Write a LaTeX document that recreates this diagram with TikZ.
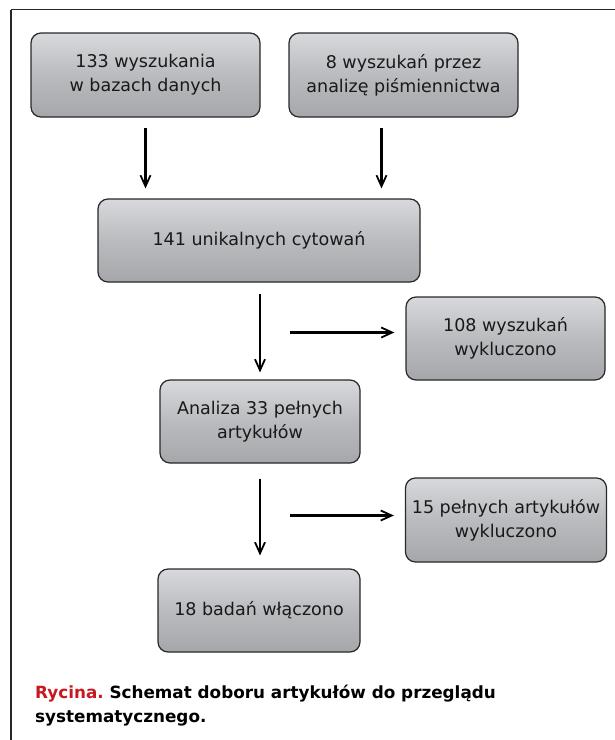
\documentclass[tikz,border=0pt]{standalone}
\usepackage{fontspec}
\setmainfont{DejaVu Sans}
\usetikzlibrary{arrows.meta}
\definecolor{boxtop}{RGB}{216,217,220}
\definecolor{boxbot}{RGB}{166,167,170}
\definecolor{boxline}{RGB}{40,40,40}
\definecolor{txt}{RGB}{25,25,25}
\definecolor{capred}{RGB}{200,25,35}
\tikzset{
  flowbox/.style={draw=boxline, line width=1.2pt, rounded corners=10pt,
    top color=boxtop, bottom color=boxbot, middle color=boxbot!60!boxtop,
    shading angle=0, align=center, text=txt, inner sep=0pt,
    font=\fontsize{17.5}{24}\selectfont},
  flowarrow/.style={line width=2.2pt, -{Straight Barb[length=11pt,width=10pt,line width=1.8pt]}}
}
\begin{document}
\frenchspacing
\begin{tikzpicture}[x=1pt,y=-1pt]
\useasboundingbox (0,0) rectangle (615,740);
\fill[white] (0,0) rectangle (615,740);
\draw[line width=1.3pt, black!85] (11,9.5) -- (640,9.5);
\draw[line width=1.3pt, black!85] (11,9.5) -- (11,760);

\node[flowbox, minimum width=229pt, minimum height=84pt] (b1) at (145.5,75) {133 wyszukania\\w bazach danych};
\node[flowbox, minimum width=229pt, minimum height=84pt] (b2) at (403.5,75) {8 wyszukań przez\\analizę piśmiennictwa};
\node[flowbox, minimum width=322pt, minimum height=83pt] (b3) at (259,240.5) {141 unikalnych cytowań};
\node[flowbox, minimum width=199pt, minimum height=83pt] (b4) at (505.5,338.5) {108 wyszukań\\wykluczono};
\node[flowbox, minimum width=200pt, minimum height=83pt] (b5) at (260,421.5) {Analiza 33 pełnych\\artykułów};
\node[flowbox, minimum width=201pt, minimum height=84pt] (b6) at (506,520) {15 pełnych artykułów\\wykluczono};
\node[flowbox, minimum width=202pt, minimum height=83pt] (b7) at (259,610.5) {18 badań włączono};

\draw[flowarrow, shorten <=10pt, shorten >=10pt] (b1.south) -- (b1.south |- b3.north);
\draw[flowarrow, shorten <=10pt, shorten >=10pt] ([xshift=-22pt]b2.south) -- ([xshift=-22pt]b2.south |- b3.north);
\draw[flowarrow, shorten <=11pt, shorten >=7pt] ([xshift=1pt]b3.south) -- ([xshift=1pt]b3.south |- b5.north);
\draw[flowarrow, shorten <=15pt, shorten >=13pt] (b5.south) -- (b5.south |- b7.north);

\coordinate (h1) at (290,332.5);
\coordinate (h2) at (290,515.5);
\draw[flowarrow, shorten >=11pt] (h1) -- (h1 -| b4.west);
\draw[flowarrow, shorten >=11pt] (h2) -- (h2 -| b6.west);

\node[anchor=base west, align=left, inner sep=0pt, font=\bfseries\fontsize{16.8}{24.5}\selectfont] (cap) at (35,722.5)
  {\textcolor{capred}{Rycina.} Schemat doboru artykułów do przeglądu\\systematycznego.};
\end{tikzpicture}
\end{document}
